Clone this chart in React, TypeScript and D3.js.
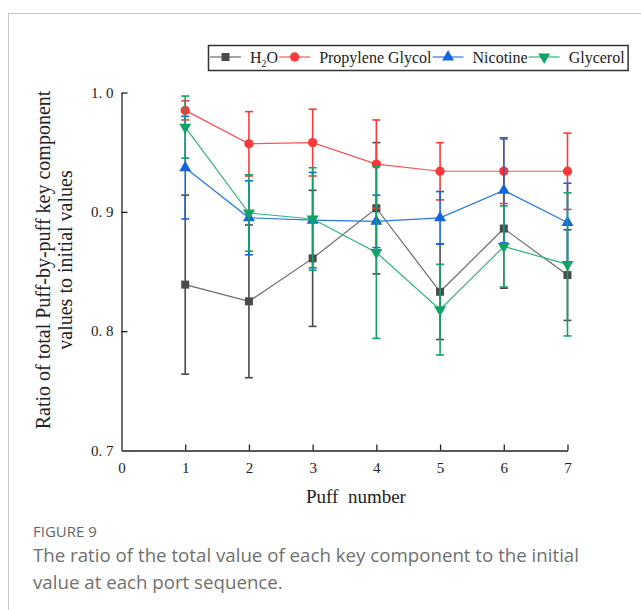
import React, { useEffect, useRef } from "react";
import * as d3 from "d3";

// puff numbers
const puffs = [1, 2, 3, 4, 5, 6, 7];

// mean ratios
const h2o = [0.839, 0.825, 0.861, 0.903, 0.833, 0.886, 0.847];
const h2oErr = [0.075, 0.064, 0.057, 0.055, 0.04, 0.05, 0.038];
const pg = [0.985, 0.957, 0.958, 0.94, 0.934, 0.934, 0.934];
const pgErr = [0.008, 0.027, 0.028, 0.037, 0.024, 0.027, 0.032];
const nicotine = [0.937, 0.895, 0.893, 0.892, 0.895, 0.918, 0.891];
const nicotineErr = [0.043, 0.031, 0.04, 0.022, 0.022, 0.044, 0.033];
const glycerol = [0.971, 0.899, 0.894, 0.866, 0.818, 0.871, 0.856];
const glycerolErr = [0.026, 0.032, 0.043, 0.072, 0.038, 0.034, 0.06];

const xTicks = [0, 1, 2, 3, 4, 5, 6, 7];
const yTicks = [0.7, 0.8, 0.9, 1.0];

const series = [
  { name: "H2O", values: h2o, errs: h2oErr, color: "#4a4a4a", line: "#6a6a6a", shape: "square" },
  { name: "Propylene Glycol", values: pg, errs: pgErr, color: "#fa3a3a", line: "#fa5555", shape: "circle" },
  { name: "Nicotine", values: nicotine, errs: nicotineErr, color: "#1366dd", line: "#2a78e4", shape: "up" },
  { name: "Glycerol", values: glycerol, errs: glycerolErr, color: "#12a265", line: "#2ab57a", shape: "down" },
];

const serif = "'Liberation Serif', 'Times New Roman', serif";

const symbolFor = (shape: string) => {
  if (shape === "square") return d3.symbol(d3.symbolSquare, 64)();
  if (shape === "circle") return d3.symbol(d3.symbolCircle, 68)();
  return d3.symbol(d3.symbolTriangle, 62)();
};

const App = () => {
  const ref = useRef<SVGSVGElement>(null);

  useEffect(() => {
    const svg = d3.select(ref.current);
    svg.selectAll("*").remove();

    // card border
    svg
      .append("rect")
      .attr("x", 8.5)
      .attr("y", 13.5)
      .attr("width", 700)
      .attr("height", 700)
      .attr("fill", "white")
      .attr("stroke", "#c8c8c8");

    const x = d3.scaleLinear().domain([0, 7]).range([121.5, 567.5]);
    const y = d3.scaleLinear().domain([0.7, 1.0]).range([450.5, 92.5]);

    // axes
    const xAxis = svg
      .append("g")
      .attr("transform", `translate(0,${y(0.7)})`)
      .call(d3.axisBottom(x).tickValues(xTicks).tickSizeInner(-6).tickSizeOuter(0).tickPadding(12).tickFormat(d3.format("d")));
    const yAxis = svg
      .append("g")
      .attr("transform", `translate(${x(0)},0)`)
      .call(
        d3
          .axisLeft(y)
          .tickValues(yTicks)
          .tickSizeInner(-6)
          .tickSizeOuter(0)
          .tickPadding(8)
          .tickFormat((d) => d3.format(".1f")(d as number).replace(".", ". "))
      );
    [xAxis, yAxis].forEach((g) => {
      g.attr("font-family", serif).attr("font-size", 15);
      g.select(".domain").attr("stroke", "#222").attr("stroke-width", 1.3);
      g.selectAll(".tick line").attr("stroke", "#222").attr("stroke-width", 1.3);
      g.selectAll(".tick text").attr("fill", "#222");
    });
    // first ticks sit on the other axis, drop their tick lines
    yAxis.selectAll(".tick line").filter((d) => d === 0.7).remove();
    xAxis.selectAll(".tick line").filter((d) => d === 0).remove();

    // axis titles
    svg
      .append("text")
      .attr("x", 356)
      .attr("y", 503)
      .attr("text-anchor", "middle")
      .attr("font-family", serif)
      .attr("font-size", 19)
      .attr("fill", "#222")
      .attr("xml:space", "preserve")
      .text("Puff  number");

    const yt = svg
      .append("text")
      .attr("transform", "translate(50,260) rotate(-90)")
      .attr("text-anchor", "middle")
      .attr("font-family", serif)
      .attr("font-size", 20)
      .attr("fill", "#222");
    yt.append("tspan").attr("x", 0).attr("y", 0).text("Ratio of total Puff-by-puff key component");
    yt.append("tspan").attr("x", 0).attr("y", 22).text("values to initial values");

    // series
    series.forEach((s) => {
      const g = svg.append("g");
      const pts = puffs.map((p, i) => ({ p, v: s.values[i], e: s.errs[i] }));

      const eb = g.append("g").attr("stroke", s.color).attr("stroke-width", 1.6);
      pts.forEach((d) => {
        eb.append("line").attr("x1", x(d.p)).attr("x2", x(d.p)).attr("y1", y(d.v - d.e)).attr("y2", y(d.v + d.e));
        [d.v - d.e, d.v + d.e].forEach((v) =>
          eb.append("line").attr("x1", x(d.p) - 4).attr("x2", x(d.p) + 4).attr("y1", y(v)).attr("y2", y(v))
        );
      });

      g.append("path")
        .datum(pts)
        .attr("fill", "none")
        .attr("stroke", s.line)
        .attr("stroke-width", 1.2)
        .attr("d", d3.line<{ p: number; v: number }>().x((d) => x(d.p)).y((d) => y(d.v)));

      g.selectAll("path.m")
        .data(pts)
        .join("path")
        .attr("class", "m")
        .attr("fill", s.color)
        .attr("d", symbolFor(s.shape))
        .attr("transform", (d) => `translate(${x(d.p)},${y(d.v)})${s.shape === "down" ? " rotate(180)" : ""}`);
    });

    // legend
    const lg = svg.append("g");
    const box = lg
      .append("rect")
      .attr("x", 208.5)
      .attr("y", 45.5)
      .attr("width", 417)
      .attr("height", 25)
      .attr("fill", "white")
      .attr("stroke", "#333")
      .attr("stroke-width", 1.5);
    let cx = 210;
    const ly = 57;
    series.forEach((s) => {
      lg.append("line").attr("x1", cx).attr("x2", cx + 31).attr("y1", ly).attr("y2", ly).attr("stroke", s.line).attr("stroke-width", 1.2);
      lg.append("path")
        .attr("d", symbolFor(s.shape))
        .attr("fill", s.color)
        .attr("transform", `translate(${cx + 15.5},${ly})${s.shape === "down" ? " rotate(180)" : ""}`);
      const t = lg
        .append("text")
        .attr("x", cx + 40)
        .attr("y", ly + 5.5)
        .attr("font-family", serif)
        .attr("font-size", 16)
        .attr("fill", "#222");
      if (s.name === "H2O") {
        t.append("tspan").text("H");
        t.append("tspan").attr("font-size", 10).attr("dy", 4).text("2");
        t.append("tspan").attr("dy", -4).text("O");
      } else {
        t.text(s.name);
      }
      const w = (t.node() as SVGTextElement).getComputedTextLength();
      cx = cx + 40 + w + 1;
    });
    box.attr("width", Math.max(417, cx - 208 + 2));

    // caption
    svg
      .append("text")
      .attr("x", 33)
      .attr("y", 537)
      .attr("font-family", "'Open Sans', sans-serif")
      .attr("font-size", 15)
      .attr("fill", "#666")
      .text("FIGURE 9");
    const cap = svg
      .append("text")
      .attr("font-family", "'Open Sans', sans-serif")
      .attr("font-size", 18.7)
      .attr("fill", "#707070");
    cap.append("tspan").attr("x", 33).attr("y", 562).text("The ratio of the total value of each key component to the initial");
    cap.append("tspan").attr("x", 33).attr("y", 589).text("value at each port sequence.");
  }, []);

  return (
    <div>
      <svg ref={ref} width={641} height={610} style={{ position: "absolute", left: 0, top: 0 }}></svg>
    </div>
  );
};

export default App;
